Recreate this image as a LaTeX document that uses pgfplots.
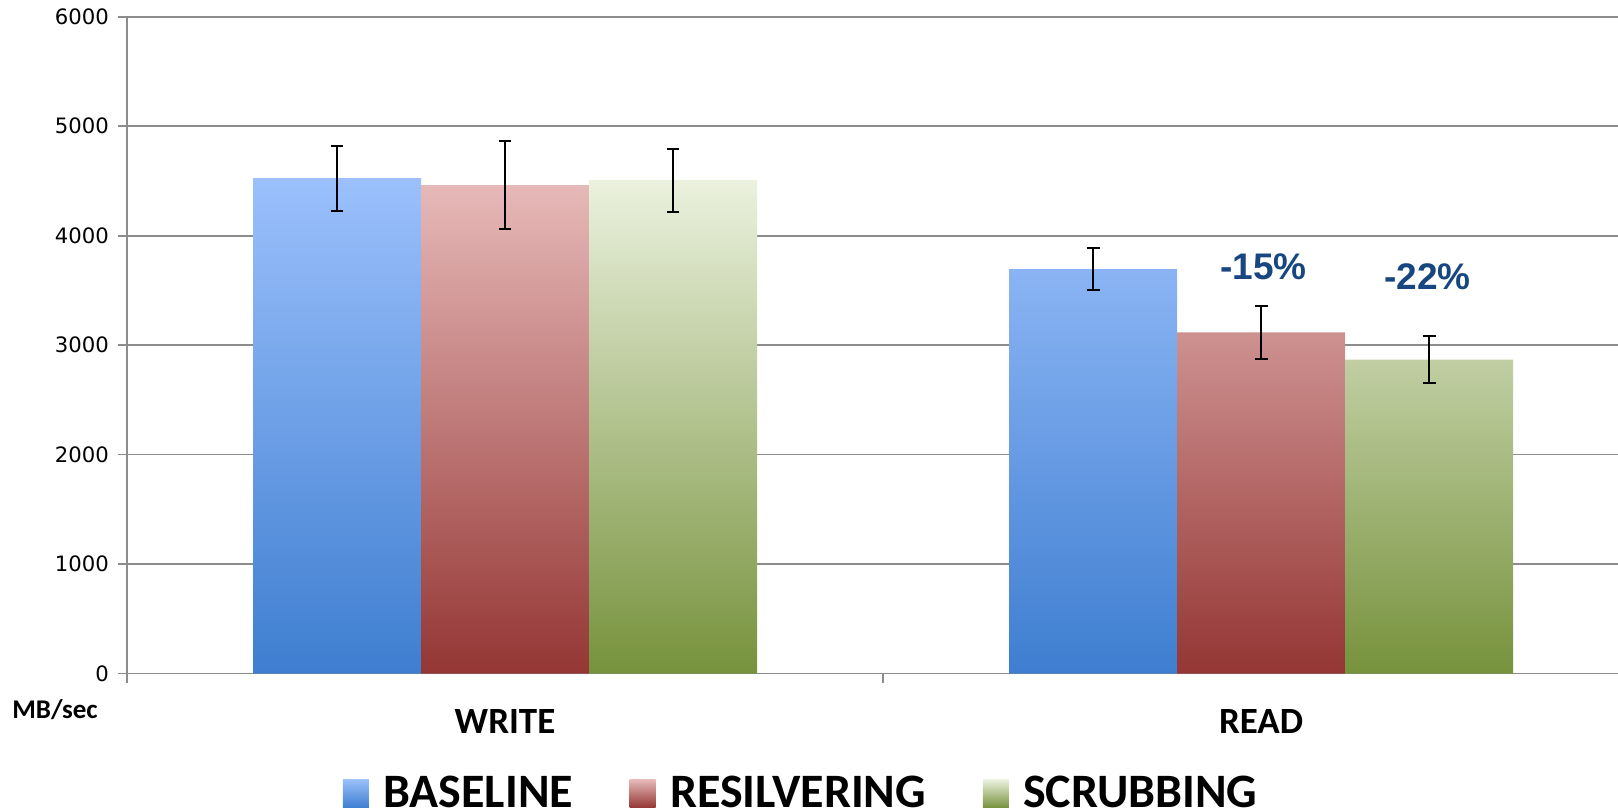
\documentclass[border=0pt]{standalone}
\usepackage{pgfplots}
\pgfplotsset{compat=1.18}
\usepackage{pgfplotstable}
\usepackage{fontspec}
\setmainfont{Carlito}
\newfontfamily\dejavu{DejaVu Sans}
\newfontfamily\libsans{Liberation Sans}
\definecolor{gridgray}{RGB}{140,140,140}
\definecolor{blueTop}{RGB}{155,192,252}
\definecolor{blueMid}{RGB}{122,166,236}
\definecolor{blueBot}{RGB}{62,126,208}
\definecolor{redTop}{RGB}{230,185,184}
\definecolor{redMid}{RGB}{202,146,145}
\definecolor{redBot}{RGB}{148,54,52}
\definecolor{greenTop}{RGB}{235,241,222}
\definecolor{greenMid}{RGB}{196,208,170}
\definecolor{greenBot}{RGB}{118,146,60}
\definecolor{pctblue}{RGB}{23,70,128}

\pgfplotstableread{
x y e
-0.2222 4525 296
0.7778 3694 193
}\baseline
\pgfplotstableread{
x y e
0 4463 400
1 3116 245
}\resilvering
\pgfplotstableread{
x y e
0.2222 4507 288
1.2222 2869 212
}\scrubbing

\begin{document}
\begin{tikzpicture}
\useasboundingbox (-63.5pt,-69.15pt) rectangle (745.5pt,336.85pt);
\begin{axis}[
  scale only axis, width=745.5pt, height=328.5pt,
  xmin=-0.5, xmax=1.472, ymin=0, ymax=6000,
  axis x line*=bottom, axis y line*=left,
  axis line style={-, gridgray, line width=0.8pt},
  tick align=outside, major tick length=4.5pt,
  tick style={gridgray, line width=0.8pt},
  ytick={0,1000,...,6000},
  ymajorgrids, grid style={gridgray, line width=0.8pt},
  yticklabel style={font=\dejavu\fontsize{10.6}{12}\selectfont, xshift=-1pt},
  /pgf/number format/assume math mode=true,
  /pgf/number format/1000 sep={},
  xtick={-0.5,0.5,1.5}, xticklabels={},
  extra x ticks={0,1}, extra x tick labels={WRITE,READ},
  extra x tick style={major tick length=0pt,
     xticklabel style={font=\bfseries\fontsize{18.5}{21}\selectfont, yshift=-14.5pt}},
  ybar=0pt, bar width=0.2222,
  legend columns=3,
  legend style={at={(0.4514,-0.1826)}, anchor=center, draw=none,
     font=\bfseries\fontsize{24}{28}\selectfont,
     nodes={inner xsep=0pt, inner ysep=0pt},
     /tikz/every odd column/.append style={column sep=7.2pt},
     /tikz/every even column/.append style={column sep=28.4pt}},
  legend image code/.code={\path[#1, draw=none] (0pt,-7pt) rectangle (13pt,7pt);},
  error bars/y dir=both, error bars/y explicit,
  error bars/error bar style={black, line width=1pt},
  error bars/error mark options={rotate=90, black, mark size=3.2pt, line width=1pt},
]
\addplot[ybar, bar shift=0pt, draw=none, top color=blueTop, middle color=blueMid, bottom color=blueBot]
  table[x=x, y=y, y error=e] {\baseline};
\addlegendentry{BASELINE}
\addplot[ybar, bar shift=0pt, draw=none, top color=redTop, middle color=redMid, bottom color=redBot]
  table[x=x, y=y, y error=e] {\resilvering};
\addlegendentry{RESILVERING}
\addplot[ybar, bar shift=0pt, draw=none, top color=greenTop, middle color=greenMid, bottom color=greenBot]
  table[x=x, y=y, y error=e] {\scrubbing};
\addlegendentry{SCRUBBING}
\node[font=\libsans\bfseries\fontsize{18.5}{20}\selectfont, text=pctblue] at (axis cs:1.003,3716) {-15\%};
\node[font=\libsans\bfseries\fontsize{18.5}{20}\selectfont, text=pctblue] at (axis cs:1.22,3624) {-22\%};
\end{axis}
\node[anchor=west, font=\bfseries\fontsize{13.5}{15}\selectfont, inner sep=0pt] at (-57.5pt,-18.2pt) {MB/sec};
\end{tikzpicture}
\end{document}
